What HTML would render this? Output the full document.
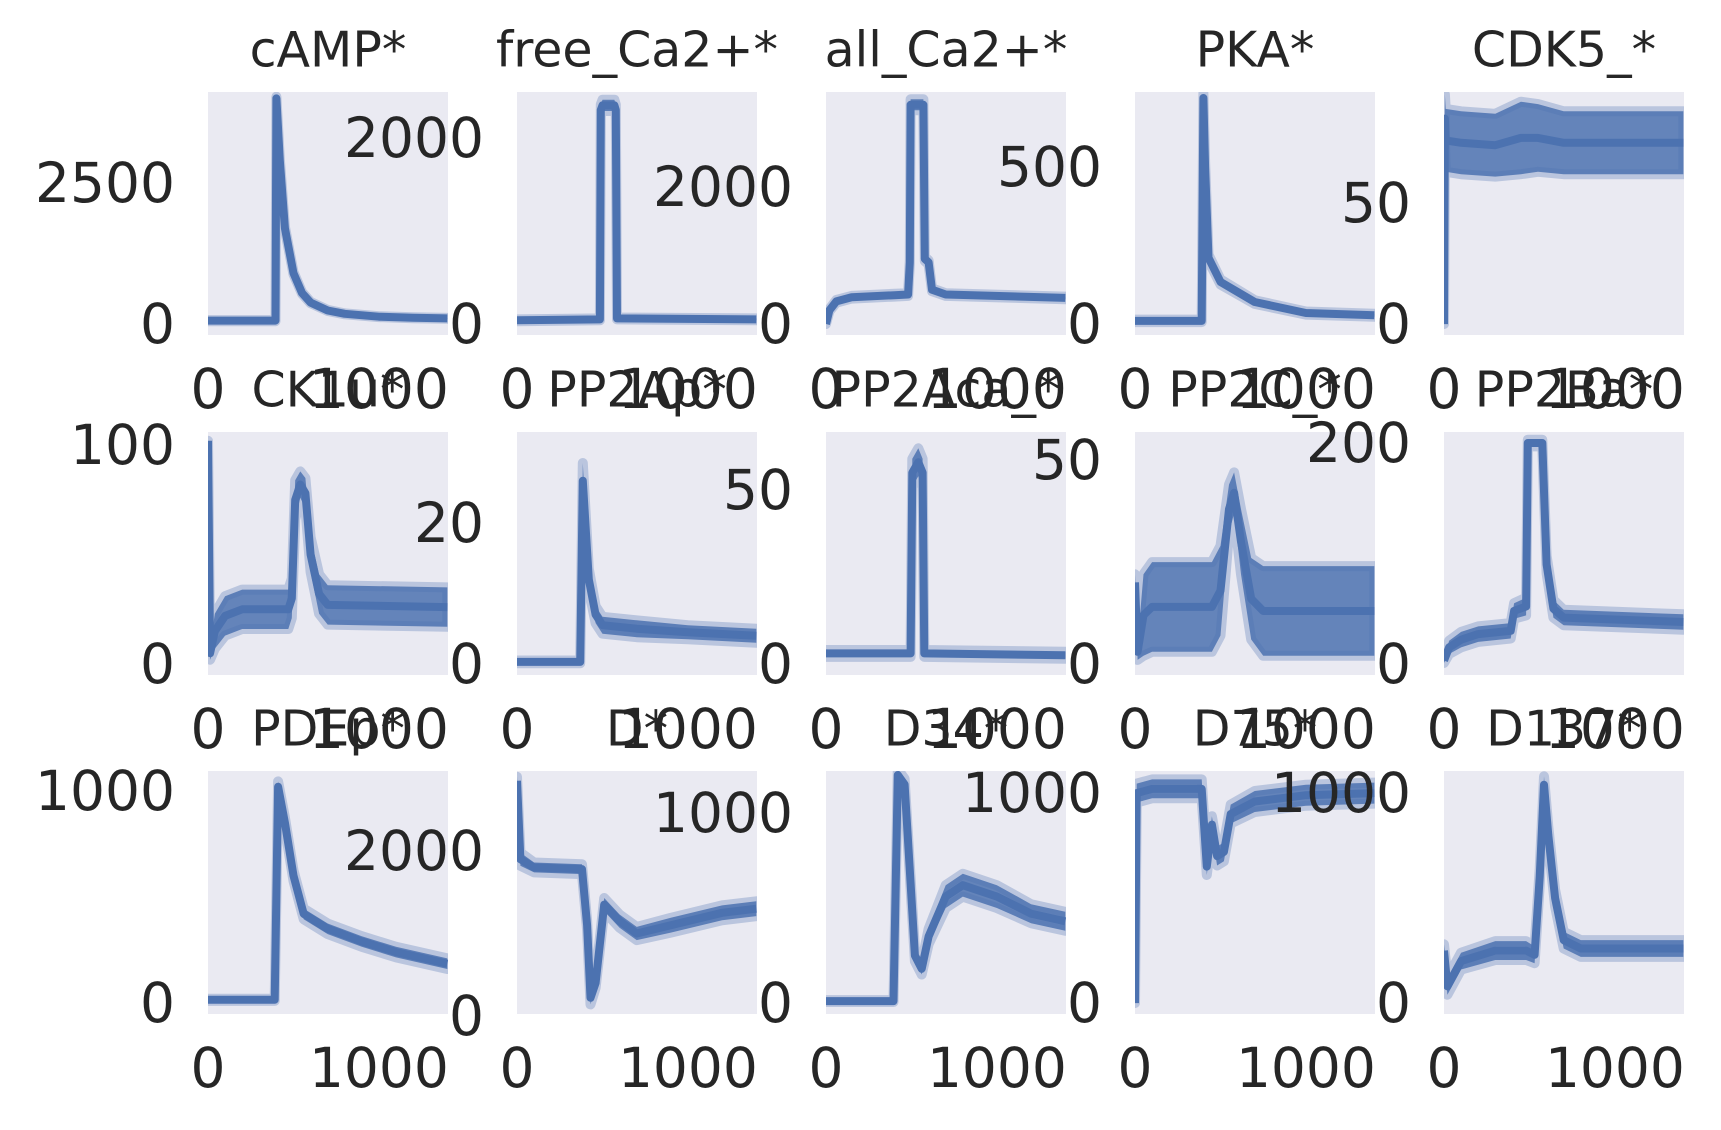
<!DOCTYPE html>
<html><head><meta charset="utf-8"><style>
html,body{margin:0;padding:0;background:#fff}
svg{display:block}
text{font-family:"DejaVu Sans","Liberation Sans",sans-serif;fill:#262626}
</style></head><body>
<svg id="fig" width="1721" height="1130" viewBox="0 0 1721 1130" xmlns="http://www.w3.org/2000/svg"></svg>
<script>
const titles = ["cAMP*","free_Ca2+*","all_Ca2+*","PKA*","CDK5_*","CK1u*","PP2Ap*","PP2Aca_*","PP2C_*","PP2Ba*","PDEp*","D*","D34*","D75*","D137*"];
const tData = [
 [0,395,400,420,450,500,550,600,700,800,1000,1200,1400],
 [0,485,490,500,570,578,585,1400],
 [0,20,60,150,400,480,490,495,570,578,600,620,700,1400],
 [0,390,400,410,430,500,700,1000,1400],
 [0,5,10,100,300,450,550,700,1000,1400],
 [0,5,12,40,100,200,470,490,510,540,570,600,650,700,1400],
 [0,370,385,420,460,500,700,1000,1400],
 [0,495,505,540,565,575,1400],
 [0,15,50,100,450,500,550,580,620,680,750,1400],
 [0,30,100,200,390,410,480,490,575,600,640,700,1400],
 [0,390,410,450,500,560,700,900,1100,1400],
 [0,20,100,380,410,430,460,510,600,700,900,1200,1400],
 [0,395,420,460,490,520,560,600,700,800,1000,1200,1400],
 [0,10,100,390,420,450,480,520,560,700,1000,1400],
 [0,20,100,300,480,530,560,585,610,650,700,800,1400]
];
const vData = [
 [60,60,4000,2900,1700,900,550,380,240,180,130,110,100],
 [40,50,2300,2350,2350,2300,60,50],
 [0,200,330,390,420,430,900,3200,3200,950,900,500,430,380],
 [10,10,720,500,211,134,70,35,28],
 [0,85,76,75,74,77,77,75,75,75],
 [102,60,5,15,22,25,25,30,75,82,78,50,32,27,26],
 [0.3,0.3,26,12,7,5.5,5,4.5,4],
 [3,3,55,58,55,3,2.5],
 [20,3,12,14,14,18,38,42,30,16,13,13],
 [3,15,22,27,30,48,52,200,200,90,50,42,38],
 [15,15,1020,850,600,420,350,290,240,185],
 [2850,1900,1800,1780,1100,220,400,1350,1150,1000,1100,1250,1300],
 [10,10,1200,1150,700,250,180,350,560,620,560,470,430],
 [0,1000,1020,1020,650,850,700,720,900,960,990,1000],
 [250,80,200,250,250,230,600,1040,800,500,300,260,260]
];
const spread = [
 [10,10,30,30,25,20,15,12,10,8,8,8,8],
 [10,10,60,60,60,60,10,10],
 [0,15,20,20,20,20,30,80,80,30,30,20,20,20],
 [4,4,15,15,10,8,6,5,5],
 [0,10,13,13,13,15,14,13,13,13],
 [0,5,3,8,9,9,9,9,9,6,7,8,9,9,9],
 [0.2,0.2,2.5,1.5,1.2,1.2,1.2,1,1],
 [1,1,4,4,4,1,1],
 [2,2,10,11,11,11,6,5,8,10,11,11],
 [2,6,7,7,7,7,8,3,3,8,8,7,7],
 [5,5,25,25,25,25,25,25,25,25],
 [50,80,60,60,60,80,60,80,80,80,90,90,90],
 [5,5,30,30,30,30,30,40,60,60,60,50,50],
 [0,45,45,45,40,40,45,45,45,50,50,50],
 [30,40,40,45,45,40,40,40,40,40,40,40,40]
];
const yLo = [-195,-118,-161,-35,-4.5,-5,-1.56,-3.2,-2.7,-10,-52,24,-58,-52,-52];
const yHi = [4113,2494,3387,739,96,106,32.9,66.7,56.9,210,1094,2969,1221,1105,1105];
const yTicks = [[0,2500],[0,2000],[0,2000],[0,500],[0,50],[0,100],[0,20],[0,50],[0,50],[0,200],[0,1000],[0,2000],[0,1000],[0,1000],[0,1000]];
const xTicks = [0,1000];
const xMax = 1404;

const NS = "http://www.w3.org/2000/svg";
const svg = document.getElementById("fig");
const colX = [208,517,826,1135,1444];
const rowY = [92,432,771];
const W = 240, H = 243;
function mk(tag, attrs){const e=document.createElementNS(NS,tag);for(const k in attrs)e.setAttribute(k,attrs[k]);return e;}
const defs = mk("defs",{}); svg.appendChild(defs);

for(let i=0;i<titles.length;i++){
  const left = colX[i%5], top = rowY[Math.floor(i/5)];
  const xs = t => left + t/xMax*W;
  const ys = v => top + H - (v - yLo[i])/(yHi[i]-yLo[i])*H;
  const g = mk("g",{});
  
  
  svg.appendChild(g);
  const bg = mk("rect",{x:left,y:top,width:W,height:H,fill:"#eaeaf2"});
  
  
  g.appendChild(bg);
  const cp = mk("clipPath",{id:"cp"+i}); cp.appendChild(mk("rect",{x:left,y:top,width:W,height:H})); defs.appendChild(cp);
  const t = tData[i], v = vData[i], s = spread[i];
  let up = t.map((tt,k)=>xs(tt).toFixed(1)+","+ys(v[k]+s[k]).toFixed(1));
  let dn = t.map((tt,k)=>xs(tt).toFixed(1)+","+ys(v[k]-s[k]).toFixed(1)).reverse();
  const band = mk("polygon",{points:up.concat(dn).join(" "),fill:"#4c72b0","fill-opacity":"0.85",stroke:"#4c72b0","stroke-opacity":"0.3","stroke-width":"10","stroke-linejoin":"round","clip-path":"url(#cp"+i+")"});
  
  
  g.appendChild(band);
  const line = mk("polyline",{points:t.map((tt,k)=>xs(tt).toFixed(1)+","+ys(v[k]).toFixed(1)).join(" "),fill:"none",stroke:"#4c72b0","stroke-width":"8","stroke-linejoin":"round","clip-path":"url(#cp"+i+")"});
  
  
  g.appendChild(line);
  const ti = mk("text",{x:left+W/2,y:top-42,"font-size":"49","text-anchor":"middle","dominant-baseline":"central"});
  ti.textContent = titles[i];
  
  
  g.appendChild(ti);
  yTicks[i].forEach(tv=>{
    const tx = mk("text",{x:left-33,y:ys(tv),"font-size":"55","text-anchor":"end","dominant-baseline":"central"});
    tx.textContent = String(tv);
    
    
    g.appendChild(tx);
  });
  xTicks.forEach(tv=>{
    const tx = mk("text",{x:xs(tv),y:top+H+54,"font-size":"55","text-anchor":"middle","dominant-baseline":"central"});
    tx.textContent = String(tv);
    
    
    g.appendChild(tx);
  });
}
</script>
</body></html>
